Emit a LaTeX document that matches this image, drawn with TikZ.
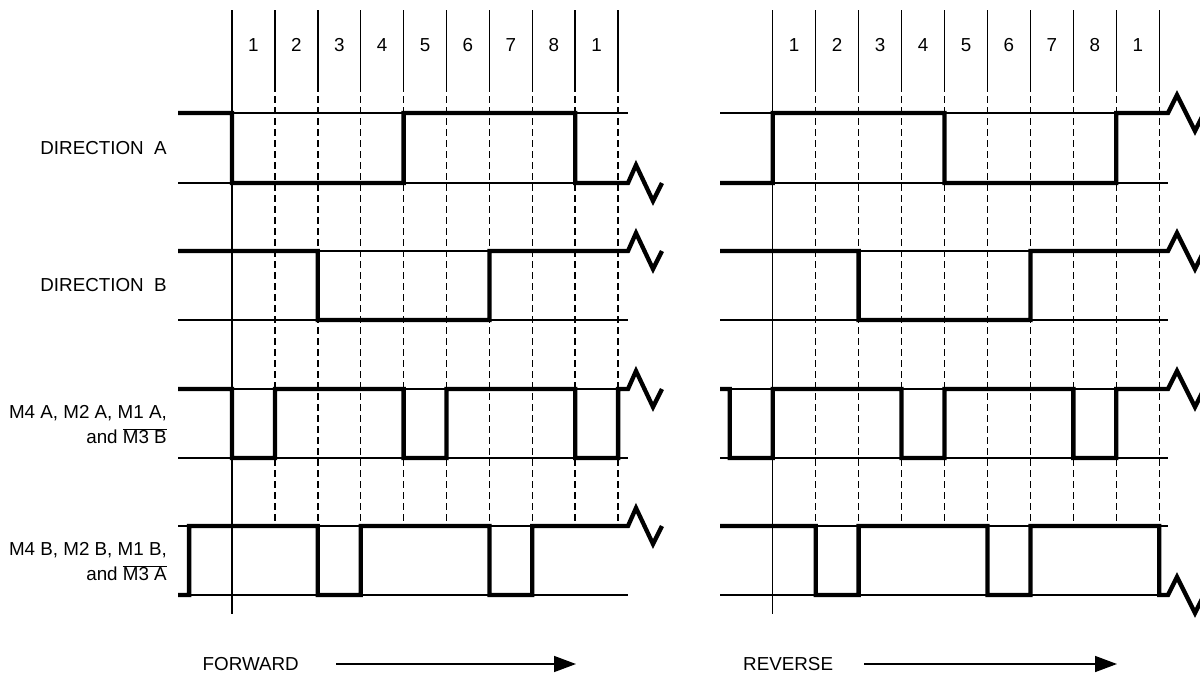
\documentclass[tikz,border=0pt]{standalone}
\usepackage{fontspec}
\setmainfont{Liberation Sans}
\usetikzlibrary{arrows.meta}
\begin{document}
\begin{tikzpicture}[x=1pt,y=-1pt,
  thin line/.style={line width=1.5pt},
  wave/.style={line width=4.3pt,line join=miter},
  grid dash/.style={line width=1.5pt,dash pattern=on 7pt off 4pt},
  lbl/.style={font=\fontsize{18.8}{22}\selectfont,inner sep=0pt},
  rlbl/.style={lbl,anchor=east,align=right}]
\useasboundingbox (0,0) rectangle (1200,673);
% ---------------- grid lines ----------------
\foreach \xo/\st/\nm in {232/42.9/L,772.7/42.95/R}{
  \draw[thin line] (\xo,10) -- (\xo,614);
  \foreach \k in {1,...,9}{
    \pgfmathsetmacro{\xx}{\xo+\st*\k}
    \draw[thin line] (\xx,10) -- (\xx,85);
    \draw[grid dash] (\xx,85) -- (\xx,526);
  }
  \foreach \k/\t in {0/1,1/2,2/3,3/4,4/5,5/6,6/7,7/8,8/1}{
    \pgfmathsetmacro{\xx}{\xo+\st*(\k+0.5)}
    \node[lbl] (num\nm\k) at (\xx,45) {\t};
  }
}
\foreach \y in {113,183,251,320,389,458,526,595}{
  \draw[thin line] (178,\y) -- (628,\y);
  \draw[thin line] (720,\y) -- (1168,\y);
}
% ---------------- labels ----------------
\node[rlbl] (dirA) at (167,148) {DIRECTION\ \ A};
\node[rlbl] (dirB) at (167,285) {DIRECTION\ \ B};
\node[rlbl] (m3a) at (167,413) {M4 A, M2 A, M1 A,};
\node[rlbl] (m3b) at (167,436) {and $\overline{\hbox{M3 B}}$};
\node[rlbl] (m4a) at (167,550) {M4 B, M2 B, M1 B,};
\node[rlbl] (m4b) at (167,573) {and $\overline{\hbox{M3 A}}$};
\node[lbl,anchor=west] (fwd) at (202.5,664) {FORWARD};
\node[lbl,anchor=west] (rev) at (743,664) {REVERSE};
\coordinate (fwdS) at (336,664);
\coordinate (fwdE) at (576,664);
\coordinate (revS) at (864,664);
\coordinate (revE) at (1117,664);
\draw[thin line,-{Triangle[length=22pt,width=16pt]}] (fwdS) -- (fwdE);
\draw[thin line,-{Triangle[length=22pt,width=16pt]}] (revS) -- (revE);
% ---------------- waveforms: forward ----------------
\draw[wave] (178,113) -- (232,113) -- (232,183) -- (403.6,183) -- (403.6,113) -- (575.2,113) -- (575.2,183) -- (628,183) -- ++(8,-18) -- ++(17,36) -- ++(9,-18);
\draw[wave] (178,251) -- (317.8,251) -- (317.8,320) -- (489.4,320) -- (489.4,251) -- (628,251) -- ++(8,-18) -- ++(17,36) -- ++(9,-18);
\draw[wave] (178,389) -- (232,389) -- (232,458) -- (274.9,458) -- (274.9,389) -- (403.6,389) -- (403.6,458) -- (446.5,458) -- (446.5,389) -- (575.2,389) -- (575.2,458) -- (618.1,458) -- (618.1,389) -- (628,389) -- ++(8,-18) -- ++(17,36) -- ++(9,-18);
\draw[wave] (178,595) -- (189.1,595) -- (189.1,526) -- (317.8,526) -- (317.8,595) -- (360.7,595) -- (360.7,526) -- (489.4,526) -- (489.4,595) -- (532.3,595) -- (532.3,526) -- (628,526) -- ++(8,-18) -- ++(17,36) -- ++(9,-18);
% ---------------- waveforms: reverse ----------------
\draw[wave] (720,183) -- (772.7,183) -- (772.7,113) -- (944.5,113) -- (944.5,183) -- (1116.3,183) -- (1116.3,113) -- (1168,113) -- ++(9,-18) -- ++(18,36) -- ++(9,-18);
\draw[wave] (720,251) -- (858.6,251) -- (858.6,320) -- (1030.4,320) -- (1030.4,251) -- (1168,251) -- ++(9,-18) -- ++(18,36) -- ++(9,-18);
\draw[wave] (720,389) -- (729.75,389) -- (729.75,458) -- (772.7,458) -- (772.7,389) -- (901.55,389) -- (901.55,458) -- (944.5,458) -- (944.5,389) -- (1073.35,389) -- (1073.35,458) -- (1116.3,458) -- (1116.3,389) -- (1168,389) -- ++(9,-18) -- ++(18,36) -- ++(9,-18);
\draw[wave] (720,526) -- (815.65,526) -- (815.65,595) -- (858.6,595) -- (858.6,526) -- (987.45,526) -- (987.45,595) -- (1030.4,595) -- (1030.4,526) -- (1159.25,526) -- (1159.25,595) -- (1168,595) -- ++(9,-18) -- ++(18,36) -- ++(9,-18);
\end{tikzpicture}
\end{document}
